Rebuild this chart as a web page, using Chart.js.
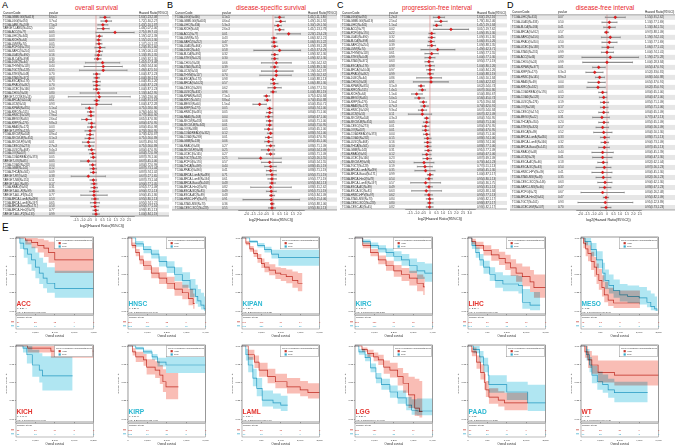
<!DOCTYPE html>
<html><head><meta charset="utf-8">
<script src="https://cdn.jsdelivr.net/npm/chart.js@4.4.1/dist/chart.umd.min.js"></script>
<style>
html,body{margin:0;padding:0;background:#fff;}
#wrap{position:relative;width:676px;height:445px;overflow:hidden;font-family:"Liberation Sans",Arial,sans-serif;}
canvas{position:absolute;}
.lbl{position:absolute;color:#000;line-height:1;}
.ttl{position:absolute;font-size:6.5px;color:#e8262b;line-height:1;white-space:nowrap;transform:translateX(-50%);}
</style></head><body><div id="wrap">
<div class="lbl" style="left:2px;top:1px;font-size:9px">A</div>
<div class="lbl" style="left:167px;top:1px;font-size:9px">B</div>
<div class="lbl" style="left:337px;top:1px;font-size:9px">C</div>
<div class="lbl" style="left:507px;top:1px;font-size:9px">D</div>
<div class="lbl" style="left:2px;top:223px;font-size:10px">E</div>
<div class="ttl" style="left:96.5px;top:5px">overall survival</div>
<div class="ttl" style="left:271px;top:5px">disease-specific survival</div>
<div class="ttl" style="left:437px;top:5px">progression-free interval</div>
<div class="ttl" style="left:605px;top:5px">disease-free interval</div>
<canvas id="cA" width="170" height="228" style="left:0px;top:0px"></canvas>
<canvas id="cB" width="168" height="222" style="left:170px;top:0px"></canvas>
<canvas id="cC" width="170" height="221" style="left:338px;top:0px"></canvas>
<canvas id="cD" width="168" height="222" style="left:508px;top:0px"></canvas>
</div>
<script>
// ---------------- Forest plot data (log2 hazard ratio, 95% CI) ----------------
const A_codes = ["TCGA-GBMLGG(N=619)","TCGA-LGG(N=474)","TCGA-LAML(N=209)","TARGET-LAML(N=142)","TCGA-ACC(N=77)","TCGA-LIHC(N=341)","TCGA-KICH(N=64)","TCGA-UVM(N=74)","TCGA-PCPG(N=170)","TCGA-SARC(N=254)","TCGA-LUAD(N=490)","TCGA-BLCA(N=398)","TCGA-DLBC(N=44)","TCGA-THYM(N=118)","TCGA-TGCT(N=128)","TCGA-STES(N=548)","TCGA-STAD(N=372)","TCGA-ESCA(N=176)","TCGA-PRAD(N=492)","TCGA-UCEC(N=166)","TCGA-CHOL(N=33)","TARGET-CCSK(N=13)","TCGA-BRCA(N=1044)","TCGA-UCS(N=55)","TCGA-KIPAN(N=855)","TCGA-KIRC(N=515)","TCGA-HNSC(N=509)","TCGA-MESO(N=84)","TCGA-KIRP(N=276)","TCGA-PAAD(N=172)","TARGET-WT(N=120)","TCGA-SKCM(N=444)","TCGA-SKCM-M(N=351)","TCGA-SKCM-P(N=93)","TCGA-CESC(N=273)","TCGA-LUSC(N=468)","TCGA-OV(N=407)","TCGA-COADREAD(N=373)","TARGET-OS(N=85)","TCGA-COAD(N=282)","TCGA-GBM(N=145)","TCGA-THCA(N=501)","TARGET-RT(N=62)","TARGET-NB(N=151)","TARGET-ALL(N=86)","TCGA-READ(N=91)","TARGET-ALL-R(N=99)","TARGET-ALL-P3(N=24)","TCGA-BRCA-LumA(N=499)","TCGA-BRCA-LumB(N=197)","TCGA-BRCA-Basal(N=171)","TCGA-BRCA-Her2(N=78)","TARGET-ALL-P2(N=133)"];
const A_p = ["6.6e-5","3.7e-4","7.5e-3","0.02","0.05","0.03","0.03","0.05","0.12","0.05","0.16","0.30","0.45","0.44","0.55","0.70","0.63","0.73","0.70","0.69","0.80","0.84","0.61","0.93","5.1e-4","1.9e-3","7.9e-4","2.6e-4","9.8e-3","0.03","0.02","4.9e-4","3.1e-3","0.01","2.7e-3","9.4e-3","0.03","0.05","0.05","0.04","0.12","0.09","0.38","0.11","0.17","0.31","0.36","0.77","0.53","0.65","0.58","0.77","0.99"];
const A_hr = [0.68,0.78,0.52,0.55,1.44,0.25,0.20,0.23,0.30,0.25,0.18,0.13,0.50,0.55,0.55,0.05,0.05,0.05,0.05,0.05,0.18,0.25,0.05,0.05,-0.50,-0.40,-0.38,-0.71,-0.33,-0.33,-0.45,-0.45,-0.50,-0.58,-0.50,-0.33,-0.25,-0.20,-0.58,-0.25,-0.20,-0.20,-0.58,-0.20,-0.15,-0.13,-0.15,-0.15,-0.08,-0.08,-0.08,-0.03,0.00];
const A_lo = [0.30,0.38,0.14,0.10,-0.01,0.03,0.02,0.01,-0.08,0.00,-0.07,-0.12,-0.80,-0.90,-1.25,-0.20,-0.15,-0.23,-0.20,-0.20,-1.20,-2.10,-0.14,-1.09,-0.78,-0.65,-0.60,-1.09,-0.58,-0.63,-0.83,-0.70,-0.83,-1.03,-0.83,-0.58,-0.48,-0.40,-1.16,-0.48,-0.45,-0.43,-1.88,-0.45,-0.37,-0.38,-0.47,-1.15,-0.33,-0.43,-0.37,-0.23,-0.25];
const A_hi = [1.06,1.18,0.90,1.00,2.89,0.47,0.38,0.45,0.68,0.50,0.43,0.38,1.80,2.00,2.35,0.30,0.25,0.33,0.30,0.30,1.56,2.60,0.24,1.19,-0.22,-0.15,-0.16,-0.33,-0.08,-0.03,-0.07,-0.20,-0.17,-0.13,-0.17,-0.08,-0.02,0.00,0.00,-0.02,0.05,0.03,0.72,0.05,0.07,0.12,0.17,0.85,0.17,0.27,0.21,0.17,0.25];
const A_ticks = [-1.5,-1,-0.5,0,0.5,1,1.5,2,2.5];

const B_codes = ["TCGA-LGG(N=466)","TCGA-GBMLGG(N=605)","TCGA-LIHC(N=334)","TCGA-KICH(N=64)","TCGA-ACC(N=77)","TCGA-UVM(N=74)","TCGA-SARC(N=252)","TCGA-LUAD(N=464)","TCGA-DLBC(N=44)","TCGA-BLCA(N=391)","TCGA-STES(N=525)","TCGA-CHOL(N=33)","TCGA-STAD(N=352)","TCGA-UCS(N=55)","TCGA-THYM(N=117)","TCGA-ESCA(N=173)","TCGA-BRCA(N=1022)","TCGA-CESC(N=269)","TCGA-LUSC(N=431)","TCGA-KIPAN(N=842)","TCGA-KIRC(N=505)","TCGA-MESO(N=64)","TCGA-KIRP(N=273)","TCGA-HNSC(N=491)","TCGA-PAAD(N=168)","TCGA-SKCM(N=433)","TCGA-SKCM-M(N=345)","TCGA-OV(N=388)","TCGA-COADREAD(N=352)","TCGA-COAD(N=269)","TCGA-GBM(N=139)","TCGA-READ(N=83)","TCGA-SKCM-P(N=88)","TCGA-UCEC(N=165)","TCGA-TGCT(N=128)","TCGA-PCPG(N=170)","TCGA-THCA(N=499)","TCGA-PRAD(N=490)","TCGA-BRCA-LumA(N=489)","TCGA-BRCA-LumB(N=194)","TCGA-BRCA-Basal(N=168)","TCGA-BRCA-Her2(N=76)","TCGA-ESCA-SC(N=81)","TCGA-ESCA-AC(N=89)","TCGA-HNSC-HPV(N=97)","TCGA-STAD-MSI(N=73)","TCGA-CESC-SCC(N=228)"];
const B_p = ["4.1e-5","4.6e-4","5.3e-3","2.6e-3","0.01","0.43","0.47","0.29","0.58","0.32","0.30","0.66","0.39","0.67","0.74","0.98","0.57","0.62","0.96","7.1e-5","8.8e-4","1.5e-4","0.05","0.05","0.04","0.06","0.01","0.05","0.12","0.01","0.06","0.27","0.25","0.27","0.25","0.57","0.44","0.41","0.71","0.61","0.48","0.82","0.49","0.48","0.91","0.36","0.55"];
const B_hr = [0.50,0.58,0.38,0.50,1.19,0.08,0.08,0.13,0.50,0.13,0.13,0.25,0.13,0.25,0.25,0.00,0.08,0.13,0.00,-0.50,-0.43,-1.01,-0.25,-0.25,-0.33,-0.25,-0.25,-0.33,-0.18,-0.33,-0.33,-0.18,-0.33,-0.18,-0.93,-0.25,-0.18,-0.18,-0.08,-0.08,-0.08,-0.18,-0.13,-0.13,-0.13,-0.08,-0.08];
const B_lo = [0.15,0.22,0.12,0.17,0.30,-0.12,-0.13,-0.10,-1.45,-0.12,-0.12,-0.88,-0.17,-0.88,-1.00,-0.18,-0.18,-0.38,-0.18,-0.68,-0.63,-1.52,-0.43,-0.50,-0.58,-0.50,-0.50,-0.63,-0.43,-0.58,-0.63,-0.50,-0.88,-0.50,-2.60,-0.88,-0.63,-0.50,-0.50,-0.38,-0.25,-1.69,-0.50,-0.25,-2.27,-0.18,-0.33];
const B_hi = [0.85,0.94,0.64,0.83,2.08,0.28,0.29,0.36,2.10,0.38,0.38,1.39,0.38,1.52,1.39,0.18,0.38,0.63,0.25,-0.25,-0.18,-0.50,0.00,0.00,0.00,0.00,-0.08,0.00,0.00,-0.08,0.00,0.13,0.13,0.13,0.63,0.63,0.25,0.25,0.25,0.25,0.18,1.39,0.25,0.13,2.02,0.08,0.18];
const B_ticks = [-2,-1.5,-1,-0.5,0,0.5,1,1.5,2];

const C_codes = ["TCGA-LGG(N=474)","TCGA-GBMLGG(N=619)","TCGA-LIHC(N=341)","TCGA-ACC(N=77)","TCGA-PCPG(N=170)","TCGA-LUAD(N=490)","TCGA-BLCA(N=398)","TCGA-SARC(N=254)","TCGA-UVM(N=74)","TCGA-THYM(N=118)","TCGA-STES(N=548)","TCGA-STAD(N=372)","TCGA-ESCA(N=176)","TCGA-BRCA(N=1044)","TCGA-PRAD(N=492)","TCGA-DLBC(N=44)","TCGA-CHOL(N=33)","TCGA-KIPAN(N=855)","TCGA-KIRC(N=515)","TCGA-KICH(N=64)","TCGA-MESO(N=84)","TCGA-KIRP(N=276)","TCGA-PAAD(N=172)","TCGA-HNSC(N=509)","TCGA-UCS(N=55)","TCGA-SKCM(N=444)","TCGA-SKCM-M(N=351)","TCGA-CESC(N=273)","TCGA-OV(N=407)","TCGA-COADREAD(N=373)","TCGA-COAD(N=282)","TCGA-LUSC(N=468)","TCGA-THCA(N=501)","TCGA-GBM(N=145)","TCGA-READ(N=91)","TCGA-UCEC(N=166)","TCGA-SKCM-P(N=93)","TCGA-TGCT(N=128)","TCGA-BRCA-LumA(N=499)","TCGA-BRCA-Basal(N=171)","TCGA-BRCA-Her2(N=78)","TCGA-BRCA-LumB(N=197)","TCGA-ESCA-AC(N=89)","TCGA-ESCA-SC(N=81)","TCGA-HNSC-HPV(N=97)","TCGA-STAD-MSI(N=73)","TCGA-CESC-SCC(N=228)","TCGA-CESC-AD(N=45)"];
const C_p = ["1.2e-3","2.5e-4","1.1e-4","0.02","0.22","0.32","0.44","0.39","0.37","0.61","0.99","0.63","0.98","0.97","0.99","0.86","0.91","3.1e-9","1.4e-5","1.1e-6","5.0e-5","1.5e-4","4.7e-3","9.3e-4","0.11","4.3e-3","0.05","0.01","0.01","0.04","0.15","0.16","0.10","0.31","0.12","0.23","0.24","0.19","0.35","0.99","0.54","0.57","0.49","0.63","0.62","0.84","0.80","0.82"];
const C_hr = [0.68,0.83,0.50,1.59,0.13,0.13,0.08,0.13,0.58,0.13,0.00,-0.08,0.00,0.00,0.00,0.08,0.08,-0.68,-0.58,-1.01,-0.83,-0.50,-0.43,-0.58,-0.58,-0.25,-0.25,-0.33,-0.33,-0.25,-0.18,-0.18,-0.18,-0.13,-0.25,-0.20,-0.45,-0.38,-0.33,0.00,-0.08,-0.33,-0.08,-0.28,-0.08,-0.03,-0.03,-0.03];
const C_lo = [0.25,0.38,0.25,0.25,-0.08,-0.13,-0.13,-0.18,-0.68,-0.38,-0.38,-0.38,-0.33,-0.25,-0.18,-1.01,-1.26,-0.88,-0.83,-1.39,-1.14,-0.76,-0.68,-0.88,-1.64,-0.43,-0.50,-0.58,-0.58,-0.50,-0.43,-0.43,-0.38,-0.38,-0.58,-0.53,-1.20,-0.96,-1.14,-0.20,-0.33,-1.46,-0.30,-1.39,-0.38,-0.28,-0.20,-0.28];
const C_hi = [1.11,1.30,0.88,2.93,0.38,0.38,0.33,0.43,1.89,0.63,0.38,0.25,0.33,0.33,0.25,0.88,1.39,-0.43,-0.33,-0.58,-0.43,-0.25,-0.13,-0.25,0.13,-0.08,0.00,-0.08,-0.08,0.00,0.08,0.08,0.08,0.13,0.08,0.13,0.30,0.18,0.38,0.23,0.18,0.81,0.18,0.88,0.18,0.23,0.23,0.23];
const C_ticks = [-1.5,-1,-0.5,0,0.5,1,1.5,2,2.5,3];

const D_codes = ["TCGA-LIHC(N=315)","TCGA-LUAD(N=333)","TCGA-BLCA(N=184)","TCGA-BRCA(N=912)","TCGA-SARC(N=156)","TCGA-PRAD(N=350)","TCGA-UCEC(N=138)","TCGA-STAD(N=231)","TCGA-ACC(N=46)","TCGA-CHOL(N=24)","TCGA-KIPAN(N=377)","TCGA-KIRP(N=173)","TCGA-HNSC(N=145)","TCGA-PAAD(N=69)","TCGA-KIRC(N=182)","TCGA-COADREAD(N=176)","TCGA-COAD(N=128)","TCGA-LUSC(N=276)","TCGA-OV(N=208)","TCGA-CESC(N=174)","TCGA-MESO(N=22)","TCGA-THCA(N=354)","TCGA-STES(N=320)","TCGA-ESCA(N=89)","TCGA-BRCA-LumA(N=430)","TCGA-BRCA-LumB(N=166)","TCGA-BRCA-Basal(N=145)","TCGA-READ(N=48)","TCGA-UCS(N=29)","TCGA-ESCA-AC(N=46)","TCGA-ESCA-SC(N=43)","TCGA-HNSC-HPV(N=39)","TCGA-STAD-MSI(N=48)","TCGA-CESC-SCC(N=146)","TCGA-SARC-LMS(N=66)","TCGA-PCPG(N=72)","TCGA-BRCA-Her2(N=61)","TCGA-TGCT(N=101)","TCGA-UCEC-EM(N=107)"];
const D_p = ["0.07","0.50","0.41","0.57","0.45","0.50","0.73","0.99","0.82","0.99","0.01","6.3e-3","8.9e-3","0.04","0.03","0.05","0.12","0.19","0.17","0.22","0.31","0.24","0.17","0.52","0.33","0.32","0.35","0.44","0.41","0.18","0.54","0.41","0.35","0.63","0.47","0.67","0.47","0.93","0.70"];
const D_hr = [0.63,0.18,0.18,-0.05,0.25,0.18,0.08,0.00,0.25,0.00,-0.63,-0.93,-0.56,-0.63,-0.68,-0.33,-0.25,-0.23,-0.23,-0.25,-0.38,-0.23,-0.33,-0.25,-0.18,-0.15,-0.20,-0.33,-0.33,-0.28,-0.20,-0.33,-0.28,-0.15,-0.18,-0.33,-0.08,-0.13,-0.08];
const D_lo = [-0.13,-0.38,-0.25,-0.18,-0.43,-0.38,-0.38,-0.43,-1.90,-1.84,-1.09,-1.60,-0.88,-1.44,-1.52,-0.63,-0.58,-0.50,-0.50,-0.63,-1.09,-0.63,-0.83,-1.01,-0.50,-0.45,-0.63,-1.14,-1.09,-0.70,-0.83,-1.14,-0.83,-0.70,-0.58,-1.97,-0.28,-2.20,-0.45];
const D_hi = [1.39,0.76,0.63,0.13,1.01,0.76,0.50,0.50,2.40,1.94,-0.13,-0.30,-0.18,-0.13,-0.13,0.00,0.00,0.13,0.08,0.13,0.18,0.13,0.13,0.38,0.18,0.13,0.18,0.48,0.38,0.05,0.30,0.38,0.30,0.38,0.30,1.31,0.13,1.96,0.30];
const D_ticks = [-2,-1.5,-1,-0.5,0,0.5,1,1.5,2,2.5];

// ---------------- Kaplan-Meier data: [time(days), survival, lower95, upper95] ----------------
const ACC_high = [[0,1,1,1],[576,0.97,0.91,1],[960,0.94,0.86,1],[1344,0.90,0.80,0.99],[1728,0.86,0.74,0.97],[2016,0.80,0.66,0.95],[2400,0.70,0.52,0.93],[4800,0.70,0.52,0.93]];
const ACC_low = [[0,1,1,1],[240,0.93,0.85,1],[480,0.85,0.73,0.98],[720,0.78,0.64,0.94],[960,0.70,0.55,0.88],[1200,0.60,0.45,0.80],[1440,0.52,0.37,0.73],[1680,0.45,0.31,0.66],[1920,0.38,0.25,0.60],[2400,0.31,0.18,0.55],[4800,0.31,0.18,0.55]];
const HNSC_high = [[0,1,1,1],[320,0.90,0.86,0.94],[640,0.80,0.75,0.85],[960,0.70,0.64,0.76],[1280,0.62,0.56,0.69],[1920,0.52,0.45,0.60],[2560,0.45,0.37,0.53],[3200,0.38,0.30,0.47],[3840,0.30,0.21,0.40],[4480,0.25,0.16,0.36],[4992,0.17,0.08,0.30],[5376,0.10,0.03,0.24],[5504,0.10,0.03,0.24]];
const HNSC_low = [[0,1,1,1],[640,0.92,0.88,0.96],[1280,0.84,0.79,0.89],[1920,0.78,0.72,0.84],[2560,0.68,0.61,0.75],[3200,0.60,0.52,0.68],[3840,0.50,0.41,0.60],[4480,0.42,0.32,0.53],[5120,0.30,0.19,0.44],[5568,0.20,0.10,0.36],[5760,0.14,0.06,0.30],[6016,0.08,0.02,0.25],[6272,0.03,0.00,0.20],[6400,0.03,0.00,0.20]];
const KIPAN_high = [[0,1,1,1],[300,0.93,0.90,0.96],[600,0.85,0.81,0.89],[900,0.79,0.74,0.84],[1200,0.72,0.66,0.78],[1500,0.65,0.59,0.72],[1740,0.60,0.53,0.67],[2100,0.56,0.49,0.64],[2580,0.52,0.44,0.60],[3000,0.50,0.41,0.59],[3420,0.47,0.38,0.57],[3900,0.42,0.32,0.54],[4320,0.38,0.27,0.52],[4680,0.38,0.27,0.52]];
const KIPAN_low = [[0,1,1,1],[600,0.95,0.93,0.97],[1200,0.90,0.87,0.93],[1740,0.84,0.80,0.88],[2280,0.78,0.72,0.84],[2820,0.73,0.62,0.84],[6000,0.73,0.62,0.84]];
const KIRC_high = [[0,1,1,1],[440,0.90,0.86,0.94],[880,0.80,0.75,0.85],[1320,0.70,0.64,0.76],[1760,0.62,0.55,0.69],[2200,0.55,0.47,0.63],[2640,0.50,0.41,0.59],[3080,0.45,0.35,0.55],[3520,0.38,0.27,0.50],[3872,0.33,0.22,0.47],[3960,0.33,0.22,0.47]];
const KIRC_low = [[0,1,1,1],[440,0.95,0.92,0.98],[880,0.90,0.86,0.94],[1320,0.85,0.80,0.90],[1760,0.80,0.74,0.86],[2200,0.75,0.68,0.82],[2640,0.70,0.62,0.78],[3080,0.62,0.52,0.72],[3520,0.55,0.44,0.67],[3960,0.52,0.40,0.65],[4400,0.52,0.40,0.65]];
const LIHC_high = [[0,1,1,1],[180,0.95,0.91,0.99],[360,0.90,0.85,0.95],[720,0.83,0.76,0.90],[1080,0.77,0.69,0.85],[1440,0.72,0.63,0.81],[1728,0.66,0.56,0.77],[1980,0.59,0.48,0.71],[2232,0.52,0.40,0.65],[2520,0.47,0.34,0.61],[2880,0.40,0.26,0.56],[3060,0.32,0.18,0.50],[3600,0.32,0.18,0.50]];
const LIHC_low = [[0,1,1,1],[180,0.90,0.85,0.95],[360,0.80,0.73,0.87],[540,0.70,0.62,0.78],[720,0.60,0.51,0.69],[1008,0.50,0.41,0.60],[1260,0.42,0.32,0.53],[1620,0.37,0.27,0.49],[2340,0.35,0.24,0.48],[2520,0.12,0.03,0.30],[2880,0.08,0.01,0.26],[3348,0.08,0.01,0.26]];
const MESO_high = [[0,1,1,1],[84,0.93,0.86,1],[168,0.85,0.75,0.95],[252,0.79,0.68,0.90],[364,0.68,0.56,0.81],[476,0.60,0.47,0.74],[560,0.50,0.37,0.65],[644,0.42,0.29,0.58],[756,0.32,0.20,0.49],[840,0.22,0.12,0.40],[980,0.15,0.07,0.32],[1176,0.11,0.04,0.28],[2128,0.11,0.04,0.28]];
const MESO_low = [[0,1,1,1],[140,0.95,0.90,1],[364,0.84,0.75,0.93],[560,0.70,0.59,0.82],[784,0.52,0.40,0.66],[868,0.42,0.30,0.57],[1008,0.35,0.24,0.50],[1176,0.28,0.18,0.43],[1400,0.22,0.13,0.37],[1680,0.20,0.11,0.35],[2100,0.18,0.09,0.33],[2380,0.12,0.05,0.28],[2520,0.06,0.01,0.24],[2660,0.03,0.00,0.20],[2744,0,0,0]];
const KICH_high = [[0,1,1,1],[780,0.97,0.91,1],[2340,0.93,0.84,1],[5200,0.93,0.84,1]];
const KICH_low = [[0,1,1,1],[468,0.97,0.91,1],[728,0.88,0.76,1],[1092,0.74,0.58,0.95],[1560,0.67,0.50,0.90],[1768,0.59,0.39,0.86],[3796,0.59,0.39,0.86]];
const KIRP_high = [[0,1,1,1],[360,0.92,0.87,0.97],[600,0.85,0.78,0.92],[1200,0.81,0.73,0.89],[1440,0.71,0.61,0.82],[2100,0.67,0.56,0.79],[2460,0.60,0.48,0.74],[2700,0.51,0.37,0.68],[2940,0.44,0.27,0.63],[3900,0.44,0.27,0.63]];
const KIRP_low = [[0,1,1,1],[600,0.97,0.95,0.99],[1200,0.92,0.89,0.95],[1860,0.85,0.81,0.89],[2280,0.78,0.72,0.84],[2940,0.74,0.63,0.85],[6000,0.74,0.63,0.85]];
const LAML_high = [[0,1,1,1],[224,0.88,0.81,0.95],[448,0.78,0.70,0.87],[616,0.67,0.58,0.77],[924,0.58,0.49,0.69],[1204,0.51,0.42,0.62],[1624,0.44,0.35,0.56],[2100,0.40,0.31,0.52],[2380,0.36,0.28,0.49],[2800,0.36,0.28,0.49]];
const LAML_low = [[0,1,1,1],[140,0.88,0.80,0.96],[224,0.74,0.64,0.85],[392,0.56,0.45,0.69],[532,0.42,0.31,0.56],[728,0.26,0.17,0.39],[1120,0.22,0.14,0.35],[1400,0.19,0.11,0.32],[1652,0.19,0.11,0.32]];
const LGG_high = [[0,1,1,1],[576,0.95,0.92,0.98],[1024,0.90,0.85,0.95],[1536,0.85,0.79,0.91],[1920,0.81,0.74,0.88],[2368,0.71,0.62,0.80],[2880,0.67,0.57,0.77],[3520,0.58,0.46,0.70],[3968,0.49,0.36,0.63],[4416,0.33,0.15,0.58],[4928,0.15,0.04,0.55],[5312,0.10,0.02,0.52],[5568,0.10,0.02,0.52]];
const LGG_low = [[0,1,1,1],[320,0.92,0.88,0.96],[832,0.84,0.79,0.89],[1280,0.70,0.64,0.76],[1728,0.56,0.49,0.63],[2176,0.47,0.40,0.55],[2880,0.37,0.29,0.46],[3520,0.29,0.21,0.39],[4224,0.19,0.12,0.30],[4672,0.12,0.06,0.27],[5120,0.11,0.05,0.28],[6400,0.11,0.05,0.28]];
const PAAD_high = [[0,1,1,1],[140,0.92,0.86,0.98],[308,0.78,0.69,0.87],[448,0.64,0.54,0.75],[588,0.50,0.40,0.62],[644,0.40,0.30,0.52],[756,0.30,0.21,0.42],[1092,0.26,0.17,0.38],[1316,0.22,0.12,0.36],[2156,0.22,0.12,0.36]];
const PAAD_low = [[0,1,1,1],[196,0.95,0.90,1],[420,0.85,0.77,0.93],[560,0.74,0.64,0.84],[728,0.60,0.49,0.72],[756,0.47,0.36,0.60],[1400,0.37,0.26,0.51],[2156,0.22,0.11,0.47],[2800,0.22,0.11,0.47]];
const WT_high = [[0,1,1,1],[300,0.92,0.84,1],[540,0.81,0.70,0.93],[840,0.74,0.62,0.87],[1320,0.64,0.50,0.80],[2580,0.60,0.46,0.80],[6000,0.60,0.46,0.80]];
const WT_low = [[0,1,1,1],[420,0.88,0.80,0.96],[660,0.74,0.64,0.85],[840,0.60,0.49,0.73],[1260,0.51,0.40,0.65],[1680,0.47,0.36,0.61],[2100,0.40,0.29,0.55],[2580,0.36,0.23,0.51],[5160,0.36,0.23,0.51]];

const KM_names = ["ACC","HNSC","KIPAN","KIRC","LIHC","MESO","KICH","KIRP","LAML","LGG","PAAD","WT"];
const KM_xmax = [4800,6400,6000,4400,3600,2800,5200,6000,2800,6400,2800,6000];
const KM_nameColor = ["r","c","c","c","r","c","r","c","r","r","c","r"];
const KM_p = ["p=2.3e-4","p=1.2e-3","p=4.5e-8","p=1.1e-3","p=2.1e-4","p=0.02","p=6.4e-3","p=7.7e-3","p=1.8e-4","p=3.3e-3","p=0.03","p=0.02"];
const KM_hrText = ["HR=0.27(95%CI:0.13-0.56)","HR=1.52(95%CI:1.17-1.97)","HR=2.31(95%CI:1.71-3.12)","HR=1.68(95%CI:1.23-2.28)","HR=0.49(95%CI:0.34-0.71)","HR=1.79(95%CI:1.08-2.96)","HR=0.16(95%CI:0.04-0.60)","HR=2.21(95%CI:1.22-4.00)","HR=0.52(95%CI:0.37-0.74)","HR=0.63(95%CI:0.46-0.86)","HR=1.55(95%CI:1.04-2.31)","HR=0.47(95%CI:0.24-0.92)"];
const KM_riskHigh = [[39,25,12,4,0],[254,70,22,6,0],[427,190,70,14,0],[257,150,70,12,0],[170,80,35,10,0],[42,12,3,0,0],[32,20,10,3,0],[138,60,20,3,0],[70,30,15,8,0],[237,120,40,10,0],[86,25,6,0,0],[60,35,20,6,0]];
const KM_riskLow = [[38,13,5,1,0],[255,105,40,12,1],[428,230,95,30,4],[258,170,90,30,2],[171,60,18,3,0],[42,20,5,2,0],[32,18,6,0,0],[138,70,30,8,1],[70,15,4,0,0],[237,90,25,6,1],[86,30,10,3,0],[60,25,12,2,0]];
const KM_high = [ACC_high,HNSC_high,KIPAN_high,KIRC_high,LIHC_high,MESO_high,KICH_high,KIRP_high,LAML_high,LGG_high,PAAD_high,WT_high];
const KM_low = [ACC_low,HNSC_low,KIPAN_low,KIRC_low,LIHC_low,MESO_low,KICH_low,KIRP_low,LAML_low,LGG_low,PAAD_low,WT_low];

// ---------------- styling ----------------
const FONT = '"Liberation Sans", Arial, sans-serif';
Chart.defaults.font.family = FONT;
Chart.defaults.animation = false;
Chart.defaults.plugins.legend.display = false;
Chart.defaults.plugins.tooltip.enabled = false;
const RED_LINE = '#c4372c', CY_LINE = '#32a9cc', RED_FILL = '#f9bdb5', CY_FILL = '#b0e6f2';
const RED_TXT = '#e3342f', CY_TXT = '#2bb8d2';
const CI_COL = '#8c8c8c';

function f2(v){ return Math.pow(2, v).toFixed(2); }

function forest(id, o){
  const n = o.codes.length;
  const labels = o.codes.map((c,i)=>String(i+1));
  const tbl = {
    id:'tbl',
    beforeDraw(chart){
      const {ctx, chartArea:a, scales:{y}} = chart;
      const h = (a.bottom - a.top)/n;
      ctx.save();
      ctx.fillStyle = '#e6e6e6';
      for(let i=0;i<n;i+=2){ const yc = y.getPixelForValue(i); ctx.fillRect(2, yc - h/2, chart.width - 3, h); }
      ctx.restore();
    },
    beforeDatasetsDraw(chart){
      const {ctx, chartArea:a, scales:{x}} = chart;
      const x0 = x.getPixelForValue(0);
      ctx.save(); ctx.strokeStyle = '#d98080'; ctx.lineWidth = 0.6;
      ctx.beginPath(); ctx.moveTo(x0, a.top); ctx.lineTo(x0, a.bottom); ctx.stroke(); ctx.restore();
    },
    afterDraw(chart){
      const {ctx, chartArea:a, scales:{y}} = chart;
      ctx.save();
      ctx.fillStyle = '#222'; ctx.textBaseline = 'middle'; ctx.textAlign = 'left';
      ctx.font = '3.1px ' + FONT;
      const hy = a.top - 2.2;
      ctx.fillText('CancerCode', o.xc, hy); ctx.fillText('pvalue', o.xp, hy); ctx.fillText('Hazard Ratio(95%CI)', o.xh, hy);
      ctx.strokeStyle = '#555'; ctx.lineWidth = 0.5;
      ctx.beginPath(); ctx.moveTo(2, a.top); ctx.lineTo(chart.width - 1, a.top);
      ctx.moveTo(2, a.bottom); ctx.lineTo(chart.width - 1, a.bottom); ctx.stroke();
      ctx.font = '2.8px ' + FONT; ctx.fillStyle = '#333';
      for(let i=0;i<n;i++){
        const yc = y.getPixelForValue(i);
        ctx.fillText(o.codes[i], o.xc, yc);
        ctx.fillText(o.p[i], o.xp, yc);
        ctx.fillText(f2(o.hr[i]) + '(' + f2(o.lo[i]) + ',' + f2(o.hi[i]) + ')', o.xh, yc);
      }
      ctx.restore();
    }
  };
  const pts = arr => arr.map((v,i)=>({x:v, y:labels[i]}));
  new Chart(document.getElementById(id), {
    type:'bar',
    data:{labels, datasets:[
      {type:'bar', data:o.lo.map((l,i)=>[l, o.hi[i]]), backgroundColor:CI_COL, borderWidth:0, barThickness:0.45, order:4, clip:false},
      {type:'line', indexAxis:'y', data:pts(o.lo), showLine:false, pointStyle:'line', pointRotation:90, pointRadius:1.0, pointBorderColor:CI_COL, pointBorderWidth:0.45, order:3, clip:false},
      {type:'line', indexAxis:'y', data:pts(o.hi), showLine:false, pointStyle:'line', pointRotation:90, pointRadius:1.0, pointBorderColor:CI_COL, pointBorderWidth:0.45, order:2, clip:false},
      {type:'line', indexAxis:'y', data:pts(o.hr), showLine:false, pointStyle:'rectRot', pointRadius:1.6, pointBackgroundColor:'#e3191c', pointBorderColor:'#b01010', pointBorderWidth:0.3, order:1, clip:false}
    ]},
    options:{
      responsive:false, indexAxis:'y', animation:false,
      layout:{padding:{left:o.padL, right:o.padR, top:o.padT, bottom:0}},
      plugins:{legend:{display:false}, tooltip:{enabled:false}},
      scales:{
        y:{type:'category', display:false, offset:true},
        x:{type:'linear', min:o.xmin, max:o.xmax,
           afterFit(s){ s.height = 12; },
           afterBuildTicks(s){ s.ticks = o.ticks.map(v=>({value:v})); },
           grid:{drawOnChartArea:false, drawTicks:true, tickLength:1.3, color:'#444', lineWidth:0.5},
           border:{display:true, color:'#444', width:0.5},
           ticks:{font:{size:3}, color:'#333', padding:0.6, maxRotation:0, autoSkip:false},
           title:{display:true, text:'log2(Hazard Ratio(95%CI))', font:{size:3.7}, color:'#222', padding:{top:0.6, bottom:0}}}
      }
    },
    plugins:[tbl]
  });
}

forest('cA', {codes:A_codes, p:A_p, hr:A_hr, lo:A_lo, hi:A_hi, ticks:A_ticks, xmin:-1.97, xmax:2.88, padL:70, padR:36, padT:15.4, xc:3, xp:49, xh:139});
forest('cB', {codes:B_codes, p:B_p, hr:B_hr, lo:B_lo, hi:B_hi, ticks:B_ticks, xmin:-2.65, xmax:2.35, padL:68, padR:34, padT:15.2, xc:5, xp:52, xh:138});
forest('cC', {codes:C_codes, p:C_p, hr:C_hr, lo:C_lo, hi:C_hi, ticks:C_ticks, xmin:-1.89, xmax:3.41, padL:67, padR:33, padT:15.3, xc:4, xp:51, xh:139});
forest('cD', {codes:D_codes, p:D_p, hr:D_hr, lo:D_lo, hi:D_hi, ticks:D_ticks, xmin:-2.35, xmax:2.58, padL:68, padR:35, padT:14.8, xc:4, xp:50, xh:137});

// ---------------- Kaplan-Meier panels ----------------
const blend = {
  id:'blend',
  beforeDatasetsDraw(c){ c.ctx.save(); c.ctx.globalCompositeOperation = 'multiply'; },
  afterDatasetsDraw(c){ c.ctx.restore(); }
};

function km(canvas, k){
  const xmax = KM_xmax[k], q = xmax/4;
  const hi = KM_high[k], lo = KM_low[k];
  const P = (arr, j) => arr.map(r => ({x:r[0], y:r[j]}));
  const band = (arr, j, fill, col) => ({data:P(arr,j), stepped:true, borderColor:'rgba(0,0,0,0)', borderWidth:1, pointRadius:0, fill:fill, backgroundColor:col, order:10});
  const line = (arr, col) => ({data:P(arr,1), stepped:true, borderColor:col, borderWidth:0.7, pointRadius:0, fill:false, order:1});
  const deco = {
    id:'deco',
    afterDraw(chart){
      const {ctx, chartArea:a, scales:{x}} = chart;
      ctx.save();
      ctx.strokeStyle = '#333'; ctx.lineWidth = 0.5;
      ctx.strokeRect(a.left, a.top, a.right - a.left, a.bottom - a.top);
      ctx.textAlign = 'left'; ctx.textBaseline = 'alphabetic';
      ctx.fillStyle = KM_nameColor[k] === 'r' ? RED_TXT : CY_TXT;
      ctx.font = 'bold 6.6px ' + FONT;
      ctx.fillText(KM_names[k], a.left + 0.5, a.top + 68.5);
      ctx.fillStyle = '#333'; ctx.font = '2.4px ' + FONT;
      ctx.fillText(KM_p[k], a.left + 1, a.top + 72);
      ctx.fillText(KM_hrText[k], a.left + 1, a.top + 75.6);
      const lx = a.right - 39, ly = a.top + 0.8;
      ctx.fillStyle = '#fff'; ctx.fillRect(lx, ly, 38, 11);
      ctx.strokeStyle = '#777'; ctx.lineWidth = 0.4; ctx.strokeRect(lx, ly, 38, 11);
      ctx.fillStyle = '#333'; ctx.font = '2.3px ' + FONT;
      ctx.fillText('Gene expression (Transcripts/TPM)', lx + 1.5, ly + 3);
      ctx.fillStyle = RED_LINE; ctx.fillRect(lx + 4, ly + 4.3, 2.2, 2.2);
      ctx.fillStyle = CY_LINE; ctx.fillRect(lx + 4, ly + 7.6, 2.2, 2.2);
      ctx.fillStyle = '#333';
      ctx.fillText('High', lx + 7.5, ly + 6.3);
      ctx.fillText('Low', lx + 7.5, ly + 9.6);
      const ry = a.bottom + 1.5, rh = 13.5;
      ctx.strokeStyle = '#555'; ctx.lineWidth = 0.4;
      ctx.strokeRect(a.left, ry, a.right - a.left, rh);
      ctx.fillStyle = '#333'; ctx.font = '2.3px ' + FONT;
      ctx.fillText('Number at risk', a.left + 1, ry + 2.8);
      ctx.textAlign = 'center';
      for(let i=0;i<5;i++){
        const px = x.getPixelForValue(q*i);
        ctx.fillStyle = RED_LINE; ctx.fillText(String(KM_riskHigh[k][i]), px + (i===0?2:0), ry + 7);
        ctx.fillStyle = CY_LINE; ctx.fillText(String(KM_riskLow[k][i]), px + (i===0?2:0), ry + 11);
      }
      ctx.fillStyle = RED_LINE; ctx.fillRect(a.left - 5, ry + 6, 3, 0.7);
      ctx.fillStyle = CY_LINE; ctx.fillRect(a.left - 5, ry + 10, 3, 0.7);
      ctx.restore();
    }
  };
  new Chart(canvas, {
    type:'line',
    data:{datasets:[ band(lo,2,false,CY_FILL), band(lo,3,'-1',CY_FILL), band(hi,2,false,RED_FILL), band(hi,3,'-1',RED_FILL), line(lo,CY_LINE), line(hi,RED_LINE) ]},
    options:{
      responsive:false, animation:false,
      layout:{padding:{left:0, right:6, top:3, bottom:0}},
      plugins:{legend:{display:false}, tooltip:{enabled:false}},
      scales:{
        x:{type:'linear', min:0, max:xmax,
           afterFit(s){ s.height = 24; },
           afterBuildTicks(s){ s.ticks = [0,q,2*q,3*q,4*q].map(v=>({value:v})); },
           grid:{drawOnChartArea:false, tickLength:1.2, color:'#444', lineWidth:0.4}, border:{display:false},
           ticks:{font:{size:2.5}, color:'#333', padding:15.3, maxRotation:0, autoSkip:false, callback:v=>Math.round(v).toLocaleString('en-US')},
           title:{display:true, text:'Overall survival', font:{size:2.7}, color:'#222', padding:{top:0.3, bottom:0}}},
        y:{type:'linear', min:-0.041, max:1.0137,
           afterFit(s){ s.width = 11; },
           afterBuildTicks(s){ s.ticks = [0,0.25,0.5,0.75,1].map(v=>({value:v})); },
           grid:{drawOnChartArea:false, tickLength:1.2, color:'#444', lineWidth:0.4}, border:{display:false},
           ticks:{font:{size:2.4}, color:'#333', padding:0.6, callback:v=>Number(v).toFixed(2)},
           title:{display:true, text:'Survival probability', font:{size:2.4}, color:'#222', padding:0}}
      }
    },
    plugins:[blend, deco]
  });
}

const KM_left = [11,123,237,350,463,576];
const KM_top = [237,345];
const wrap = document.getElementById('wrap');
for(let k=0;k<12;k++){
  const c = document.createElement('canvas');
  c.width = 112; c.height = 104;
  c.style.left = (KM_left[k%6] - 11) + 'px';
  c.style.top = (KM_top[Math.floor(k/6)] - 3) + 'px';
  wrap.appendChild(c);
  km(c, k);
}
</script>
</body></html>
